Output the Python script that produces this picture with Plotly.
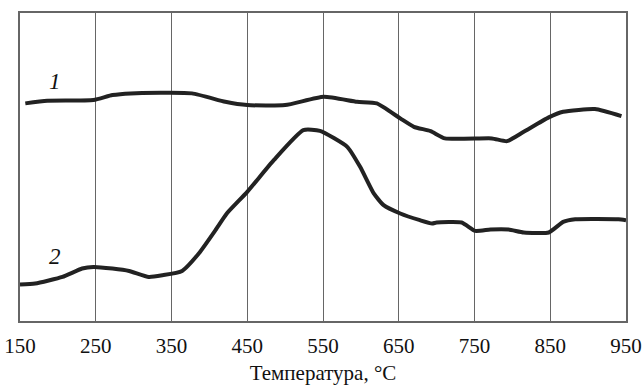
import plotly.graph_objects as go

# Temperature (°C) and curve values (arbitrary units)
t1 = [157, 186, 247, 272, 296, 377, 421, 450, 500, 551, 595, 621, 652, 670, 692, 711, 773, 793, 815, 848, 867, 909, 944]
y1 = [217.4, 220, 220.7, 225.7, 227.4, 227.4, 219, 215.7, 215.7, 224, 219, 217.4, 202.4, 194, 189.7, 182.4, 182.4, 179.7, 189, 203.4, 209, 211.7, 204.7]

t2 = [150, 170, 206, 232, 247, 272, 294, 320, 338, 364, 386, 408, 423, 450, 485, 524, 546, 582, 599, 617, 630, 652, 678, 694, 700, 733, 751, 771, 795, 815, 848, 867, 883, 940, 950]
y2 = [36.4, 37.4, 44, 52.4, 54, 52.4, 50, 44, 45.7, 50, 67.4, 90.7, 107.4, 129, 160.7, 190.7, 190, 174, 154, 127.4, 115.7, 107.4, 100.7, 97.4, 98.4, 98.4, 90, 91.4, 91.4, 88.4, 88.4, 99, 101.7, 101.7, 100.7]

tick_vals = [150, 250, 350, 450, 550, 650, 750, 850, 950]
x_title = "Температура, °C"
curve_labels = ["1", "2"]
label_pos = [(196, 239), (196, 64.7)]

fig = go.Figure()
for t, y in [(t1, y1), (t2, y2)]:
    fig.add_trace(go.Scatter(x=t, y=y, mode="lines",
                             line=dict(color="#222222", width=4, shape="spline", smoothing=0.5),
                             showlegend=False, hoverinfo="skip"))

for lab, (lx, ly) in zip(curve_labels, label_pos):
    fig.add_annotation(x=lx, y=ly, text=f"<i>{lab}</i>", showarrow=False,
                       font=dict(family="Liberation Serif", size=23, color="#111111"))

fig.update_layout(
    width=642, height=385,
    margin=dict(l=20, r=16, t=13, b=64, autoexpand=False),
    paper_bgcolor="white", plot_bgcolor="white",
    font=dict(family="Liberation Serif", size=21, color="#111111"),
    xaxis=dict(range=[150, 950], tickvals=tick_vals, ticks="", automargin=False,
               showgrid=True, gridcolor="#666666", gridwidth=1,
               showline=True, linecolor="#666666", linewidth=1.5, mirror=True,
               zeroline=False, ticklabelstandoff=5,
               title=dict(text=x_title, font=dict(size=21), standoff=8)),
    yaxis=dict(range=[0, 307.7], showticklabels=False, ticks="", showgrid=False,
               automargin=False,
               showline=True, linecolor="#666666", linewidth=1.5, mirror=True,
               zeroline=False),
)

fig.write_html("out.html")
